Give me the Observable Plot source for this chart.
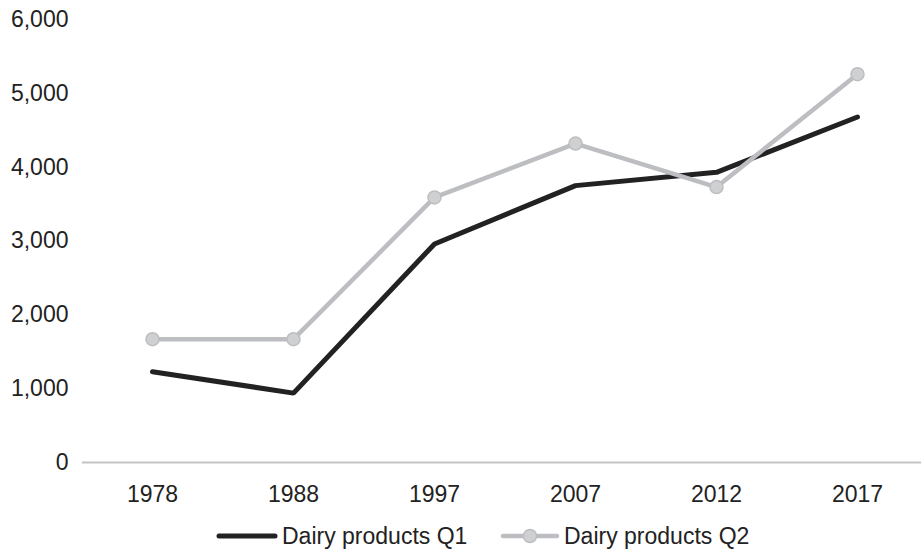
<!DOCTYPE html>
<html>
<head>
<meta charset="utf-8">
<script src="https://cdn.jsdelivr.net/npm/d3@7"></script>
<script src="https://cdn.jsdelivr.net/npm/@observablehq/plot@0.6"></script>
<style>
  html, body { margin: 0; padding: 0; background: #fff; }
  body { width: 921px; height: 551px; overflow: hidden; font-family: "Liberation Sans", Arial, sans-serif; }
  #legend { position: relative; height: 36px; font-size: 23px; color: #222; }
  .item { position: absolute; top: 3px; height: 36px; display: flex; align-items: center; white-space: nowrap; }
  .item svg { margin-right: 4px; }
</style>
</head>
<body>
<div id="chart"></div>
<div id="legend"></div>
<script>
const years = ["1978", "1988", "1997", "2007", "2012", "2017"];
const q1 = [1230, 940, 2960, 3750, 3930, 4680];
const q2 = [1670, 1670, 3590, 4320, 3730, 5260];
const seriesNames = ["Dairy products Q1", "Dairy products Q2"];
const yTicks = [0, 1000, 2000, 3000, 4000, 5000, 6000];

const data = years.flatMap((y, i) => [
  {year: y, value: q1[i], series: seriesNames[0]},
  {year: y, value: q2[i], series: seriesNames[1]}
]);
const d1 = data.filter(d => d.series === seriesNames[0]);
const d2 = data.filter(d => d.series === seriesNames[1]);

const chart = Plot.plot({
  width: 921,
  height: 515,
  marginLeft: 82,
  marginRight: 0,
  marginTop: 19,
  marginBottom: 53,
  style: {fontFamily: "'Liberation Sans', Arial, sans-serif", fontSize: "23px", color: "#222", background: "#fff"},
  x: {type: "point", domain: years, range: [152, 857], padding: 0, label: null},
  y: {domain: [0, 6000], label: null},
  marks: [
    Plot.axisY({ticks: yTicks, tickFormat: d3.format(","), tickSize: 0, tickPadding: 14, label: null, fill: "#222"}),
    Plot.axisX({tickSize: 0, tickPadding: 23, label: null, fill: "#222"}),
    Plot.ruleY([0], {stroke: "#c4c4c4", strokeWidth: 2}),
    Plot.line(d1, {x: "year", y: "value", stroke: "#222222", strokeWidth: 5, strokeLinecap: "round", strokeLinejoin: "miter"}),
    Plot.line(d2, {x: "year", y: "value", stroke: "#bdbec1", strokeWidth: 4.5, strokeLinecap: "round"}),
    Plot.dot(d2, {x: "year", y: "value", r: 6.5, fill: "#cfd0d2", stroke: "#bdbec1", strokeWidth: 1.5})
  ]
});
document.getElementById("chart").appendChild(chart);

const legend = document.getElementById("legend");
legend.innerHTML = `
  <div class="item" style="left:216px">
    <svg width="62" height="14"><line x1="3" y1="7" x2="59" y2="7" stroke="#222" stroke-width="5" stroke-linecap="round"/></svg>
    <span>${seriesNames[0]}</span>
  </div>
  <div class="item" style="left:500px">
    <svg width="60" height="16"><line x1="3" y1="8" x2="57" y2="8" stroke="#bdbec1" stroke-width="4.5" stroke-linecap="round"/><circle cx="30" cy="8" r="6.5" fill="#cfd0d2" stroke="#bdbec1" stroke-width="1.5"/></svg>
    <span>${seriesNames[1]}</span>
  </div>`;
</script>
</body>
</html>
